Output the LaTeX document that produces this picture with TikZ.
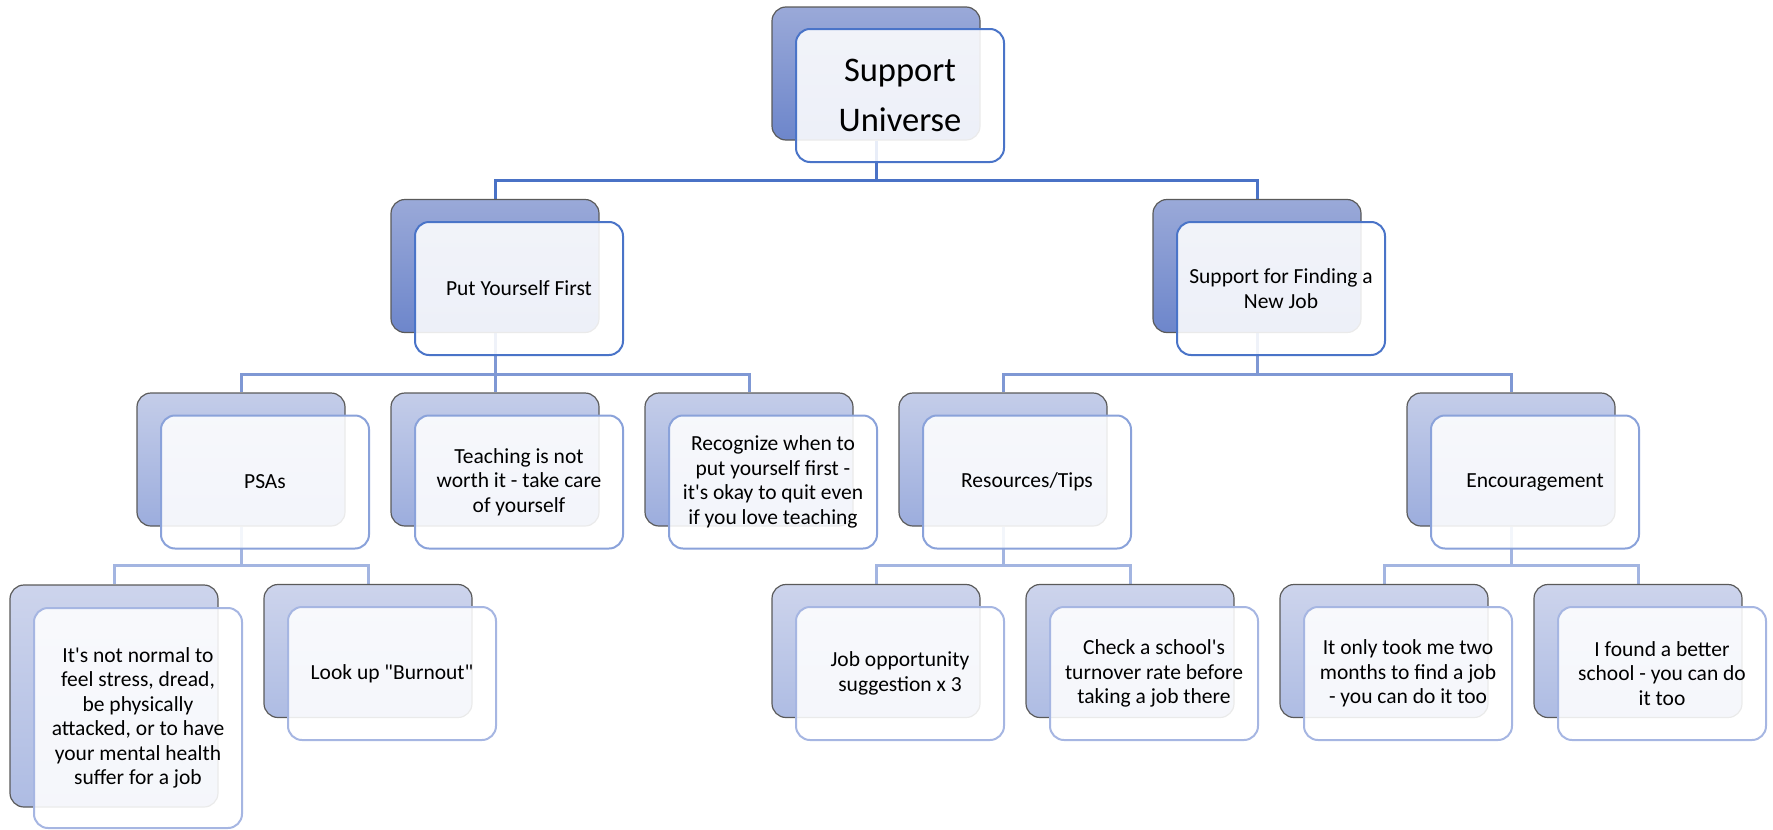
\documentclass[tikz,border=0pt]{standalone}
\usepackage{fontspec}
\setmainfont{Carlito}[Ligatures=TeXOff]
\usetikzlibrary{calc}
\pgfdeclarelayer{wires}
\pgfsetlayers{wires,main}

% back panels (gradient), front card borders and connector colours per level
\definecolor{topA}{HTML}{9AA9D8}\definecolor{botA}{HTML}{6D86CB}
\definecolor{topB}{HTML}{C4CDE9}\definecolor{botB}{HTML}{9CADDD}
\definecolor{topC}{HTML}{CDD4EC}\definecolor{botC}{HTML}{AEBCE3}
\definecolor{edgeA}{HTML}{4A74C8}
\definecolor{edgeB}{HTML}{8AA2DA}
\definecolor{edgeC}{HTML}{A6B6E2}
\definecolor{wireA}{HTML}{4A72C6}
\definecolor{wireB}{HTML}{7F98D4}
\definecolor{wireC}{HTML}{A3B5E1}
\definecolor{panelEdge}{HTML}{5A5A5A}

\tikzset{
  backbox/.style={draw=panelEdge, line width=1.2pt, rounded corners=14pt,
    minimum width=208pt, minimum height=133pt, inner sep=0pt},
  backA/.style={backbox, top color=topA, bottom color=botA},
  backB/.style={backbox, top color=topB, bottom color=botB},
  backC/.style={backbox, top color=topC, bottom color=botC},
  card/.style={rounded corners=14pt, minimum width=208pt, minimum height=133pt,
    fill=white, fill opacity=0.88, text opacity=1, line width=2pt,
    align=center, inner sep=0pt, text=black,
    font=\fontsize{21.5}{24.5}\selectfont},
  cardA/.style={card, draw=edgeA},
  cardB/.style={card, draw=edgeB},
  cardC/.style={card, draw=edgeC},
  wire/.style={line width=3pt},
}

\begin{document}
\begin{tikzpicture}[x=1pt, y=-1pt]
\useasboundingbox (0,0) rectangle (1773,830);

% ---- root ----
\node[backA] (rootB) at (876,73.5) {};
\node[cardA, font=\fontsize{34.5}{50}\selectfont] (root) at (900,95.5) {Support\\Universe};

% ---- second level ----
\node[backA] (putB) at (495,266) {};
\node[cardA] (put) at (519,288.5) {Put Yourself First};
\node[backA] (findB) at (1257,266) {};
\node[cardA] (find) at (1281,288.5) {Support for Finding a\\New Job};

% ---- third level ----
\node[backB] (psaB) at (241,459.5) {};
\node[cardB] (psa) at (265,482) {PSAs};
\node[backB] (teachB) at (495,459.5) {};
\node[cardB] (teach) at (519,482) {Teaching is not\\worth it - take care\\of yourself};
\node[backB] (recogB) at (749,459.5) {};
\node[cardB] (recog) at (773,482) {Recognize when to\\put yourself first -\\it's okay to quit even\\if you love teaching};
\node[backB] (resB) at (1003,459.5) {};
\node[cardB] (res) at (1027,482) {Resources/Tips};
\node[backB] (encB) at (1511,459.5) {};
\node[cardB] (enc) at (1535,482) {Encouragement};

% ---- fourth level ----
\node[backC, minimum height=222pt] (normB) at (114,696) {};
\node[cardC, minimum height=220pt] (norm) at (138,718) {It's not normal to\\feel stress, dread,\\be physically\\attacked, or to have\\your mental health\\suffer for a job};
\node[backC] (burnB) at (368,651) {};
\node[cardC] (burn) at (392,673.5) {Look up "Burnout"};
\node[backC] (oppB) at (876,651) {};
\node[cardC] (opp) at (900,673.5) {Job opportunity\\suggestion x 3};
\node[backC] (turnB) at (1130,651) {};
\node[cardC] (turn) at (1154,673.5) {Check a school's\\turnover rate before\\taking a job there};
\node[backC] (twoB) at (1384,651) {};
\node[cardC] (two) at (1408,673.5) {It only took me two\\months to find a job\\- you can do it too};
\node[backC] (betterB) at (1638,651) {};
\node[cardC] (better) at (1662,673.5) {I found a better\\school - you can do\\it too};

% ---- connectors (behind the cards) ----
\coordinate (barA) at (0,180);
\coordinate (barB) at (0,374.5);
\coordinate (barC) at (0,565);
\begin{pgfonlayer}{wires}
  \foreach \kid in {putB,findB}
    \draw[wire, wireA] (rootB.south) |- (\kid.north |- barA) -- (\kid.north);
  \foreach \kid in {psaB,teachB,recogB}
    \draw[wire, wireB] (putB.south) |- (\kid.north |- barB) -- (\kid.north);
  \foreach \kid in {resB,encB}
    \draw[wire, wireB] (findB.south) |- (\kid.north |- barB) -- (\kid.north);
  \foreach \kid in {normB,burnB}
    \draw[wire, wireC] (psaB.south) |- (\kid.north |- barC) -- (\kid.north);
  \foreach \kid in {oppB,turnB}
    \draw[wire, wireC] (resB.south) |- (\kid.north |- barC) -- (\kid.north);
  \foreach \kid in {twoB,betterB}
    \draw[wire, wireC] (encB.south) |- (\kid.north |- barC) -- (\kid.north);
\end{pgfonlayer}
\end{tikzpicture}
\end{document}
